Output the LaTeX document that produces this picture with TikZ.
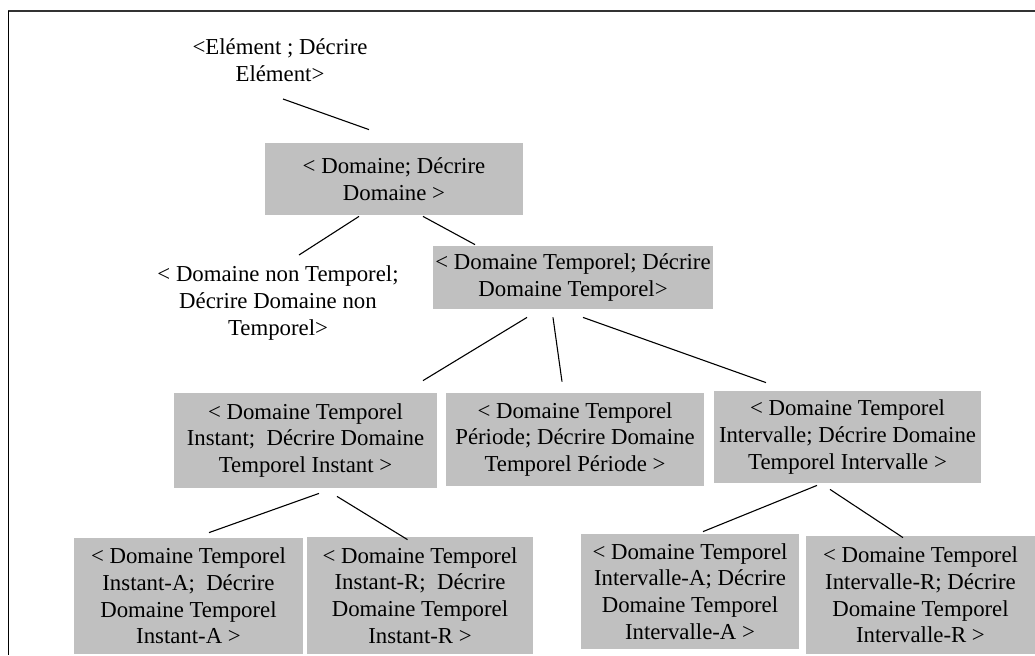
\documentclass[tikz,border=0pt]{standalone}
\usepackage{fontspec}
\setmainfont{Liberation Serif}
\usepackage{tikz}
\usetikzlibrary{calc}
\definecolor{boxgray}{HTML}{C0C0C0}
\definecolor{framegray}{HTML}{333333}
\tikzstyle{box} = [fill=boxgray, align=center, inner sep=1pt]
\tikzstyle{plain} = [align=center, inner sep=1pt]
\tikzstyle{branch} = [line width=0.55pt, black]

\begin{document}
\begin{tikzpicture}[x=0.5pt,y=-0.5pt,every node/.style={font=\fontsize{11.4}{13.35}\selectfont}]
    \useasboundingbox (0,0) rectangle (1035,655);
    % frame
    \draw[framegray, line width=1pt] (8,11) -- (1035,11);
    \draw[black, line width=0.5pt] (8,11) -- (8,655);
    % nodes
    \node[plain] (elem) at (280,60) {<Elément ; Décrire\\Elément>};
    \node[box, minimum width=129pt, minimum height=36pt] (dom) at (394,179) {< Domaine; Décrire\\Domaine >};
    \node[plain] (nontmp) at (278,303) {< Domaine non Temporel;\\Décrire Domaine non\\Temporel>};
    \node[box, minimum width=138pt, minimum height=31.5pt] (tmp) at (573,277.5) {< Domaine Temporel; Décrire\\Domaine Temporel>};
    \node[box, minimum width=131.5pt, minimum height=47.5pt] (inst) at (305.5,440.5) {< Domaine Temporel\\Instant;~ Décrire Domaine\\Temporel Instant >};
    \node[box, minimum width=129pt, minimum height=46.5pt] (per) at (575,439.5) {< Domaine Temporel\\Période; Décrire Domaine\\Temporel Période >};
    \node[box, minimum width=133.5pt, minimum height=46pt] (intv) at (847.5,437) {< Domaine Temporel\\Intervalle; Décrire Domaine\\Temporel Intervalle >};
    \node[box, minimum width=114.5pt, minimum height=58pt] (insta) at (188.5,596) {< Domaine Temporel\\Instant-A;~ Décrire\\Domaine Temporel\\Instant-A >};
    \node[box, minimum width=113pt, minimum height=58.5pt] (instr) at (420,595.5) {< Domaine Temporel\\Instant-R;~ Décrire\\Domaine Temporel\\Instant-R >};
    \node[box, minimum width=109pt, minimum height=57.5pt] (intva) at (690,591.5) {< Domaine Temporel\\Intervalle-A; Décrire\\Domaine Temporel\\Intervalle-A >};
    \node[box, minimum width=114.5pt, minimum height=59pt] (intvr) at (920.5,595) {< Domaine Temporel\\Intervalle-R; Décrire\\Domaine Temporel\\Intervalle-R >};
    % connectors
    \draw[branch] ($(elem.center)+(3,39)$) -- ($(dom.north)+(-25,-13)$);
    \draw[branch] ($(dom.south)+(-35,1)$) -- ($(nontmp.center)+(21,-48)$);
    \draw[branch] ($(dom.south)+(29,1)$) -- ($(tmp.north)+(-98,-1)$);
    \draw[branch] ($(tmp.south)+(-46,8)$) -- ($(inst.north)+(117.5,-12)$);
    \draw[branch] ($(tmp.south)+(-20,8)$) -- ($(per.north)+(-13,-11)$);
    \draw[branch] ($(tmp.south)+(10,8)$) -- ($(intv.north)+(-81.5,-8)$);
    \draw[branch] ($(inst.south)+(13.5,5)$) -- ($(insta.north)+(20.5,-5)$);
    \draw[branch] ($(inst.south)+(31.5,8)$) -- ($(instr.north)+(-12.5,3)$);
    \draw[branch] ($(intv.south)+(-30.5,2)$) -- ($(intva.north)+(13,-2)$);
    \draw[branch] ($(intv.south)+(-17.5,6)$) -- ($(intvr.north)+(-17.5,2)$);
\end{tikzpicture}
\end{document}
